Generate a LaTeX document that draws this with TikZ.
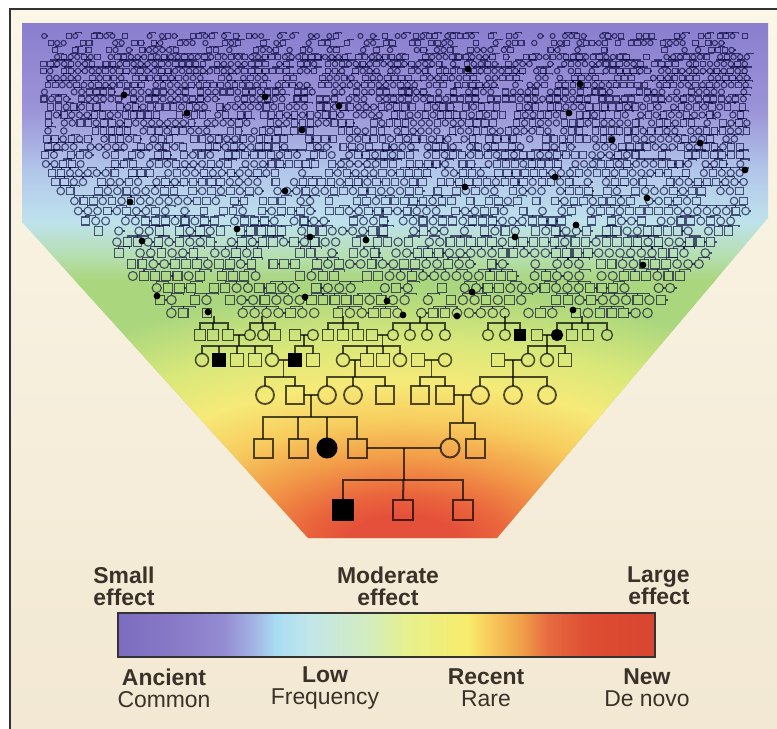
\documentclass[tikz,border=0pt]{standalone}
\usepackage{fontspec}
\setmainfont{Liberation Sans}
\usetikzlibrary{positioning,calc}

% funnel colours, bottom to top
\definecolor{fn0}{HTML}{E4503A}
\definecolor{fn1}{HTML}{EA643C}
\definecolor{fn2}{HTML}{F29A48}
\definecolor{fn3}{HTML}{F7CC5E}
\definecolor{fn4}{HTML}{F6EA78}
\definecolor{fn5}{HTML}{D9E87A}
\definecolor{fn6}{HTML}{AAD67E}
\definecolor{fn7}{HTML}{B6DFB2}
\definecolor{fn8}{HTML}{BEE2EC}
\definecolor{fn9}{HTML}{B2C6EA}
\definecolor{fn10}{HTML}{9C94D8}
\definecolor{fn11}{HTML}{8A7ECE}
% scale bar colours, left to right
\definecolor{cb0}{HTML}{7C6CC0}
\definecolor{cb1}{HTML}{8A7CC8}
\definecolor{cb2}{HTML}{948CD2}
\definecolor{cb3}{HTML}{A2B0E2}
\definecolor{cb4}{HTML}{A8DCF2}
\definecolor{cb5}{HTML}{C2E6EA}
\definecolor{cb6}{HTML}{D2ECC0}
\definecolor{cb7}{HTML}{E6F08E}
\definecolor{cb8}{HTML}{F8EC6C}
\definecolor{cb9}{HTML}{F8CE5E}
\definecolor{cb10}{HTML}{F0A048}
\definecolor{cb11}{HTML}{E66A40}
\definecolor{cb12}{HTML}{DE4C32}
\definecolor{cb13}{HTML}{D84630}
\definecolor{bgtop}{HTML}{FBF6E6}
\definecolor{bgbot}{HTML}{F2E8D3}
\definecolor{labelink}{HTML}{3A3128}
\definecolor{framecol}{HTML}{333333}

% upper part of the funnel
\pgfdeclareverticalshading{funnelshade}{100bp}{color(0bp)=(fn6); color(50bp)=(fn6);
  color(52.5bp)=(fn7); color(55.7bp)=(fn8); color(60.7bp)=(fn9);
  color(66.5bp)=(fn10); color(75bp)=(fn11); color(100bp)=(fn11)}
% lower part of the funnel, glowing from the newest generation
\pgfdeclareradialshading{heat}{\pgfpointorigin}{color(0bp)=(fn0); color(2.4bp)=(fn0);
  color(4.2bp)=(fn1); color(7.2bp)=(fn2); color(10.3bp)=(fn3); color(13.5bp)=(fn4);
  color(17bp)=(fn5); color(21.5bp)=(fn6); color(50bp)=(fn6)}
\pgfdeclarehorizontalshading{scalebar}{100bp}{color(0bp)=(cb0); color(25bp)=(cb0);
  color(31bp)=(cb1); color(34.8bp)=(cb2); color(37.4bp)=(cb3); color(39.7bp)=(cb4);
  color(42.8bp)=(cb5); color(48.1bp)=(cb6); color(51.9bp)=(cb7); color(57.6bp)=(cb8);
  color(59.4bp)=(cb9); color(62.5bp)=(cb10); color(65.1bp)=(cb11); color(69bp)=(cb12);
  color(75bp)=(cb13); color(100bp)=(cb13)}

\tikzset{
  ped/.style={draw=black, draw opacity=.68, inner sep=0pt, outer sep=0pt, minimum size=#1},
  male/.style={ped=#1, rectangle},
  female/.style={ped=#1, circle},
  sick/.style={fill=black, draw opacity=1},
  link/.style={draw=black, draw opacity=.68},
  tex/.style={draw=black!80!blue, draw opacity=.64, line width=.55bp},
  keytop/.style={font=\fontsize{11.5}{11}\selectfont\bfseries, text=labelink, inner sep=0pt},
  keybot/.style={font=\fontsize{11.5}{11}\selectfont, text=labelink, inner sep=0pt, align=center}
}

\begin{document}
\begin{tikzpicture}[x=0.5bp, y=-0.5bp]
\useasboundingbox (0,0) rectangle (777,729);
% background and frame
\fill[white] (0,0) rectangle (777,729);
\shade[top color=bgtop, bottom color=bgbot] (10,9) rectangle (777,729);
\draw[framecol, line width=1bp] (10,729) -- (10,9) -- (777,9);

% funnel
\shade[shading=funnelshade] (22,23) -- (768,23) -- (768,218) -- (497,538)
  -- (308,538) -- (22,222) -- cycle;
\begin{scope}
  \clip (22,23) -- (768,23) -- (768,218) -- (497,538) -- (308,538) -- (22,222) -- cycle;
  \clip (0,280) rectangle (777,540);
  \shade[shading=heat] (-197,245) rectangle (1003,845);
\end{scope}

% ancient generations, drawn as texture
\pgfmathsetseed{12}
\foreach \yy/\ss in {36/5, 43/5.2, 50/5.4, 57/5.4, 64/5.6, 71/5.6, 78/5.8, 85/5.8,
    92/6, 99/6, 107/6.2, 115/6.2, 123/6.4, 131/6.4, 139/6.6, 147/6.8, 155/7,
    164/7, 173/7.2, 182/7.4, 191/7.6, 201/7.6, 211/7.8, 221/8, 231/8.2, 242/8.4,
    253/8.6, 264/8.8, 276/9, 288/9.2, 300/9.4, 313/9.6}{
  \pgfmathsetmacro\st{1.24*\ss}
  \pgfmathsetmacro\xl{max(42,42+(\yy-170)*0.85)+rnd*\st}
  \pgfmathsetmacro\xr{min(748,748-(\yy-210)*0.9)}
  \pgfmathtruncatemacro\nn{(\xr-\xl)/\st}
  \pgfmathtruncatemacro\thr{\yy<56 ? 10 : 17}
  \foreach \i in {0,...,\nn}{
    \pgfmathsetmacro\xx{\xl+\i*\st}
    \pgfmathrandominteger{\kind}{0}{19}
    \ifnum\kind<\thr\relax
      \ifodd\kind
        \draw[tex] (\xx,\yy) circle ({\ss/2});
      \else
        \draw[tex] ({\xx-\ss/2},{\yy-\ss/2}) rectangle ++(\ss,\ss);
      \fi
      \pgfmathrandominteger{\br}{0}{9}
      \ifnum\br<5\relax
        \draw[tex] (\xx,{\yy-\ss/2}) -- ++(0,{-0.22*\ss}) -| ({\xx+\st},{\yy-\ss/2});
      \else\ifnum\br<7\relax
        \draw[tex] ({\xx+\ss/2},\yy) -- ({\xx+\st-\ss/2},\yy);
      \fi\fi
    \fi
  }
}
% affected carriers in the texture
\foreach \x/\y in {468/69, 580/84, 124/95, 265/97, 339/106, 187/113, 569/113,
    302/130, 612/140, 700/143, 745/170, 285/191, 465/187, 555/177, 647/198,
    130/202, 237/229, 142/241, 310/237, 366/240, 515/237, 576/225, 643/265,
    157/296, 208/312, 305/297, 387/301, 472/292, 403/315, 457/316, 573/310}
  \fill (\x,\y) circle (3.4);

% generation I
\begin{scope}[line width=.65bp]
\foreach \n/\x in {1/200, 2/213, 3/228, 6/275, 7/295, 9/328, 10/343, 11/358,
    12/372, 20/537, 22/572, 23/588}
  \node[male=5.5bp] (i\n) at (\x,335) {};
\foreach \n/\x in {4/250, 5/263, 8/313, 13/393, 14/410, 15/427, 16/445,
    17/488, 18/505, 24/607}
  \node[female=5.5bp] (i\n) at (\x,335) {};
\node[male=5.5bp, sick] (i19) at (520,335) {};
\node[female=5.5bp, sick] (i21) at (557,335) {};
% links up into the texture
\foreach \a/\b/\c in {1/3/214, 4/6/262, 9/11/343, 13/16/420, 17/19/505, 21/24/582}{
  \draw[link] (i\a.north) |- (\c,323) -| (i\b.north);
  \draw[link] (\c,323) -- (\c,316);
}
\foreach \k in {2,5,10,14,15,18,22,23}
  \draw[link] (i\k.north) -- ++(0,-6.5);
\end{scope}

% generation II
\begin{scope}[line width=.75bp]
\foreach \n/\x in {3/237, 4/255, 7/313, 9/367, 10/383, 12/418, 14/498, 17/565}
  \node[male=6.5bp] (ii\n) at (\x,360) {};
\foreach \n/\x in {1/202, 5/272, 8/343, 11/400, 13/445, 15/528, 16/547}
  \node[female=6.5bp] (ii\n) at (\x,360) {};
\node[male=6.5bp, sick] (ii2) at (219,360) {};
\node[male=6.5bp, sick] (ii6) at (295,360) {};
% matings in generation I and their children
\foreach \p/\q/\a/\b/\m in {3/4/1/5/{2,3,4}, 7/8/6/7/{}, 12/13/8/11/{9,10},
    20/21/15/17/{16}}{
  \draw[link] (i\p) -- (i\q);
  \coordinate (mi\p) at ($(i\p.east)!.5!(i\q.west)$);
  \draw[link] (mi\p) -- ++(0,11) coordinate (si\p);
  \draw[link] (ii\a.north) |- (si\p) -| (ii\b.north);
  \foreach \k in \m
    \draw[link] (ii\k.north) -- (ii\k.north |- si\p);
}
\end{scope}

% generation III
\begin{scope}[line width=.9bp]
\foreach \n/\x in {2/295, 5/385, 6/420, 7/445}
  \node[male=9bp] (iii\n) at (\x,395) {};
\foreach \n/\x in {1/265, 3/327, 4/353, 8/480, 9/513, 10/547}
  \node[female=9bp] (iii\n) at (\x,395) {};
% matings in generation II and their children
\foreach \p/\q/\a/\b/\m in {5/6/1/2/{}, 8/9/3/5/{4}, 12/13/6/7/{}, 14/15/8/10/{9}}{
  \draw[link] (ii\p) -- (ii\q);
  \coordinate (mii\p) at ($(ii\p.east)!.5!(ii\q.west)$);
  \draw[link] (mii\p) -- (mii\p |- 0,377) coordinate (sii\p);
  \draw[link] (iii\a.north) |- (sii\p) -| (iii\b.north);
  \foreach \k in \m
    \draw[link] (iii\k.north) -- (iii\k.north |- sii\p);
}
\end{scope}

% generations IV and V
\begin{scope}[line width=1bp]
\node[male=9.5bp] (iv1) at (263,448) {};
\node[male=9.5bp] (iv2) at (298,448) {};
\node[female=9.5bp, sick] (iv3) at (327,448) {};
\node[male=9.5bp] (iv4) at (357,448) {};
\node[female=9.5bp] (iv5) at (450,448) {};
\node[male=9.5bp] (iv6) at (475,448) {};

\node[male=10bp, sick] (v1) at (343,510) {};
\node[male=10bp] (v2) at (403,510) {};
\node[male=10bp] (v3) at (463,510) {};

% parents of generation IV
\draw[link] (iii2) -- (iii3);
\coordinate (m3a) at ($(iii2.east)!.5!(iii3.west)$);
\draw[link] (m3a) -- (m3a |- 0,417) coordinate (s3a);
\draw[link] (iv1.north) |- (s3a) -| (iv4.north);
\draw[link] (iv2.north) -- (iv2.north |- s3a);
\draw[link] (iv3.north) -- (iv3.north |- s3a);

\draw[link] (iii7) -- (iii8);
\coordinate (m3b) at ($(iii7.east)!.5!(iii8.west)$);
\draw[link] (m3b) -- (m3b |- 0,423) coordinate (s3b);
\draw[link] (iv5.north) |- (s3b) -| (iv6.north);

% parents of generation V
\draw[link] (iv4) -- (iv5);
\coordinate (m4) at ($(iv4.east)!.5!(iv5.west)$);
\draw[link] (m4) -- (m4 |- 0,480) coordinate (s4);
\draw[link] (v1.north) |- (s4) -| (v3.north);
\draw[link] (s4) -- (v2.north);
\end{scope}

% scale bar
\node[shade, shading=scalebar, draw=framecol, line width=.6bp, inner sep=0pt,
  minimum width=268.5bp, minimum height=22bp] (bar) at (386.5,635) {};

% labels above the bar
\node[keytop, align=left, anchor=west] (small) at (93,586) {Small\\effect};
\node[keytop, align=center] (moderate) at (388,586) {Moderate\\effect};
\node[keytop, align=right, anchor=east] (large) at (690,586) {Large\\effect};

% labels below the bar
\node[keybot] (ancient) at (164,688) {\textbf{Ancient}\\Common};
\node[keybot] (low) at (325,688) {\textbf{Low}\\Frequency};
\node[keybot] (recent) at (486,688) {\textbf{Recent}\\Rare};
\node[keybot] (new) at (647,688) {\textbf{New}\\De novo};
\end{tikzpicture}
\end{document}
